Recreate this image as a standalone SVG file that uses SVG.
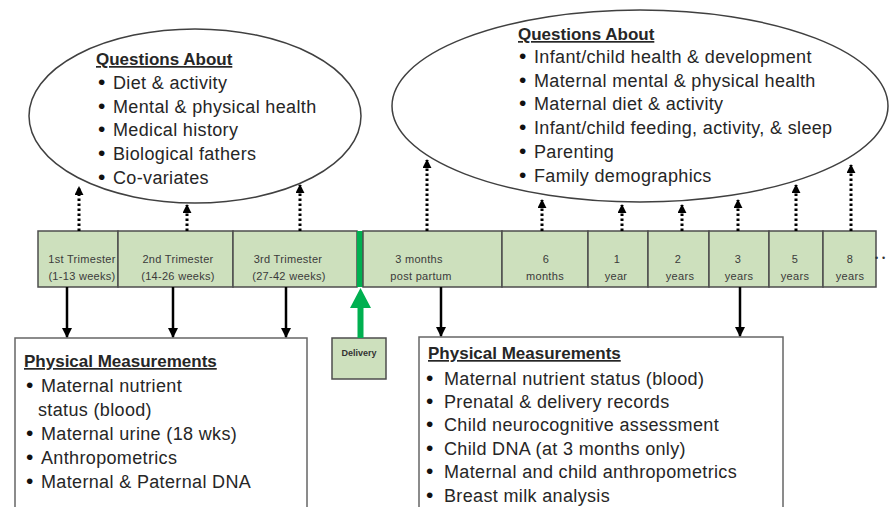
<svg xmlns="http://www.w3.org/2000/svg" width="889" height="507" viewBox="0 0 889 507">
<defs>
<marker id="hd" markerUnits="userSpaceOnUse" viewBox="0 0 10 10" refX="9" refY="5" markerWidth="9" markerHeight="9" orient="auto"><path d="M0,0 L10,5 L0,10 z" fill="#000"/></marker>
<marker id="hs" markerUnits="userSpaceOnUse" viewBox="0 0 10 10" refX="9" refY="5" markerWidth="10" markerHeight="10" orient="auto"><path d="M0,0 L10,5 L0,10 z" fill="#000"/></marker>
</defs>
<style>
text{font-family:"Liberation Sans",Arial,sans-serif}
.body{font-size:18px;letter-spacing:0.35px;fill:#262626}
.b{font-size:21px;fill:#111}
.title{font-size:17px;font-weight:bold;text-decoration:underline;fill:#262626}
.tl{font-size:11px;letter-spacing:0.3px;fill:#3b3b3b;text-anchor:middle}
.cell{fill:#cde0bd;stroke:#4d4d4d;stroke-width:1.5}
.oval{fill:#fff;stroke:#404040;stroke-width:1.5}
.box{fill:#fff;stroke:#666;stroke-width:1.5}
.dot{stroke:#000;stroke-width:3;stroke-dasharray:2.5 2.5;fill:none;marker-end:url(#hd)}
.solid{stroke:#000;stroke-width:2.5;fill:none;marker-end:url(#hs)}
</style>
<rect width="889" height="507" fill="#fff"/>

<g id="prenatal-questions">
<ellipse class="oval" cx="195" cy="116" rx="166" ry="87"/>
<text class="title" x="96" y="65">Questions About</text>
<text class="body" y="89"><tspan class="b" x="98">•</tspan><tspan x="113">Diet &amp; activity</tspan></text>
<text class="body" y="113"><tspan class="b" x="98">•</tspan><tspan x="113">Mental &amp; physical health</tspan></text>
<text class="body" y="136"><tspan class="b" x="98">•</tspan><tspan x="113">Medical history</tspan></text>
<text class="body" y="160"><tspan class="b" x="98">•</tspan><tspan x="113">Biological fathers</tspan></text>
<text class="body" y="184"><tspan class="b" x="98">•</tspan><tspan x="113">Co-variates</tspan></text>
</g>

<g id="postnatal-questions">
<ellipse class="oval" cx="640" cy="106" rx="248" ry="96"/>
<text class="title" x="518" y="40">Questions About</text>
<text class="body" y="63"><tspan class="b" x="519">•</tspan><tspan x="534">Infant/child health &amp; development</tspan></text>
<text class="body" y="87"><tspan class="b" x="519">•</tspan><tspan x="534">Maternal mental &amp; physical health</tspan></text>
<text class="body" y="110"><tspan class="b" x="519">•</tspan><tspan x="534">Maternal diet &amp; activity</tspan></text>
<text class="body" y="134"><tspan class="b" x="519">•</tspan><tspan x="534">Infant/child feeding, activity, &amp; sleep</tspan></text>
<text class="body" y="158"><tspan class="b" x="519">•</tspan><tspan x="534">Parenting</tspan></text>
<text class="body" y="182"><tspan class="b" x="519">•</tspan><tspan x="534">Family demographics</tspan></text>
</g>

<g id="timeline">
<g id="t1"><rect class="cell" x="38" y="231" width="80" height="56"/><text class="tl" x="82" y="263">1st Trimester</text><text class="tl" x="82" y="280">(1-13 weeks)</text></g>
<g id="t2"><rect class="cell" x="118" y="231" width="115" height="56"/><text class="tl" x="178" y="263">2nd Trimester</text><text class="tl" x="178" y="280">(14-26 weeks)</text></g>
<g id="t3"><rect class="cell" x="233" y="231" width="124" height="56"/><text class="tl" x="288" y="263">3rd Trimester</text><text class="tl" x="289" y="280">(27-42 weeks)</text></g>
<rect id="birth" x="357" y="231" width="6" height="56" fill="#00b050"/>
<g id="m3"><rect class="cell" x="363" y="231" width="139" height="56"/><text class="tl" x="419" y="263">3 months</text><text class="tl" x="421" y="280">post partum</text></g>
<g id="m6"><rect class="cell" x="502" y="231" width="86" height="56"/><text class="tl" x="546" y="263">6</text><text class="tl" x="545" y="280">months</text></g>
<g id="y1"><rect class="cell" x="588" y="231" width="60" height="56"/><text class="tl" x="617" y="263">1</text><text class="tl" x="616" y="280">year</text></g>
<g id="y2"><rect class="cell" x="648" y="231" width="61" height="56"/><text class="tl" x="678" y="263">2</text><text class="tl" x="680" y="280">years</text></g>
<g id="y3"><rect class="cell" x="709" y="231" width="60" height="56"/><text class="tl" x="738" y="263">3</text><text class="tl" x="739" y="280">years</text></g>
<g id="y5"><rect class="cell" x="769" y="231" width="54" height="56"/><text class="tl" x="795" y="263">5</text><text class="tl" x="795" y="280">years</text></g>
<g id="y8"><rect class="cell" x="823" y="231" width="53" height="56"/><text class="tl" x="850" y="263">8</text><text class="tl" x="850" y="280">years</text></g>
<text x="875" y="261" font-size="9" fill="#333">•</text>
<text x="882" y="261" font-size="9" fill="#333">•</text>
</g>

<g id="delivery">
<rect class="cell" x="332" y="338" width="54" height="41"/>
<text x="359" y="356" font-size="9" font-weight="bold" fill="#333" text-anchor="middle">Delivery</text>
</g>

<g id="prenatal-measurements">
<rect class="box" x="15" y="338" width="292" height="190"/>
<text class="title" x="24" y="367">Physical Measurements</text>
<text class="body" y="392"><tspan class="b" x="26">•</tspan><tspan x="41">Maternal nutrient</tspan></text>
<text class="body" x="38" y="416">status (blood)</text>
<text class="body" y="440"><tspan class="b" x="26">•</tspan><tspan x="41">Maternal urine (18 wks)</tspan></text>
<text class="body" y="464"><tspan class="b" x="26">•</tspan><tspan x="41">Anthropometrics</tspan></text>
<text class="body" y="488"><tspan class="b" x="26">•</tspan><tspan x="41">Maternal &amp; Paternal DNA</tspan></text>
</g>

<g id="postnatal-measurements">
<rect class="box" x="419" y="337" width="364" height="190"/>
<text class="title" x="428" y="359">Physical Measurements</text>
<text class="body" y="385"><tspan class="b" x="426">•</tspan><tspan x="444">Maternal nutrient status (blood)</tspan></text>
<text class="body" y="408"><tspan class="b" x="426">•</tspan><tspan x="444">Prenatal &amp; delivery records</tspan></text>
<text class="body" y="431"><tspan class="b" x="426">•</tspan><tspan x="444">Child neurocognitive assessment</tspan></text>
<text class="body" y="455"><tspan class="b" x="426">•</tspan><tspan x="444">Child DNA (at 3 months only)</tspan></text>
<text class="body" y="478"><tspan class="b" x="426">•</tspan><tspan x="444">Maternal and child anthropometrics</tspan></text>
<text class="body" y="502"><tspan class="b" x="426">•</tspan><tspan x="444">Breast milk analysis</tspan></text>
</g>

<g id="connectors">
<line class="dot" x1="79" y1="231" x2="79" y2="187"/>
<line class="dot" x1="187" y1="231" x2="187" y2="205"/>
<line class="dot" x1="300" y1="231" x2="300" y2="185"/>
<line class="dot" x1="427" y1="231" x2="427" y2="160"/>
<line class="dot" x1="542" y1="231" x2="542" y2="200"/>
<line class="dot" x1="622" y1="231" x2="622" y2="205"/>
<line class="dot" x1="682" y1="231" x2="682" y2="205"/>
<line class="dot" x1="738" y1="231" x2="738" y2="200"/>
<line class="dot" x1="796" y1="231" x2="796" y2="185"/>
<line class="dot" x1="851" y1="231" x2="851" y2="165"/>
<line class="solid" x1="67" y1="287" x2="67" y2="337"/>
<line class="solid" x1="173" y1="287" x2="173" y2="337"/>
<line class="solid" x1="286" y1="287" x2="286" y2="337"/>
<line class="solid" x1="441" y1="287" x2="441" y2="336"/>
<line class="solid" x1="740" y1="287" x2="740" y2="336"/>
<path d="M357.5,338 L357.5,308 L350,308 L360.5,288 L371,308 L363.5,308 L363.5,338 Z" fill="#00b050"/>
</g>
</svg>
